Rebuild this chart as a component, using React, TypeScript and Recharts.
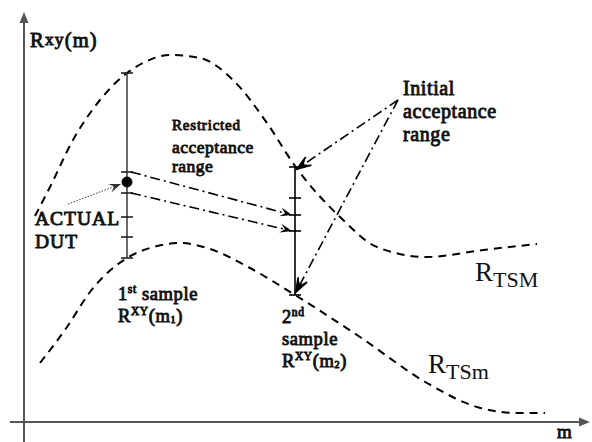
import React from 'react';
import { LineChart, Line, XAxis, YAxis, ReferenceLine, ReferenceDot } from 'recharts';

// RTSM (upper limit) curve: m vs R
const upperCurve = [
  { m: 35, r: 226 }, { m: 50, r: 255 }, { m: 73, r: 302 }, { m: 100, r: 342 },
  { m: 127, r: 369 }, { m: 145, r: 380 }, { m: 170, r: 387 }, { m: 200, r: 384 },
  { m: 233, r: 362 }, { m: 267, r: 319 }, { m: 295, r: 276 }, { m: 340, r: 225 },
  { m: 377, r: 195 }, { m: 427, r: 185 }, { m: 483, r: 192 }, { m: 537, r: 198 },
];
// RTSm (lower limit) curve
const lowerCurve = [
  { m: 40, r: 79 }, { m: 67, r: 115 }, { m: 90, r: 150 }, { m: 127, r: 184 },
  { m: 150, r: 194 }, { m: 180, r: 199 }, { m: 210, r: 193 }, { m: 250, r: 174 },
  { m: 295, r: 147 }, { m: 360, r: 105 }, { m: 427, r: 59 }, { m: 477, r: 35 },
  { m: 517, r: 29 }, { m: 545, r: 29 },
];
// sample positions and range ticks
const sampleM = [127, 295];
const sample1Ticks = [369, 270, 249, 225, 205, 184];
const sample2Ticks = [275, 244, 227, 211, 147];
const actualDut = { m: 127, r: 260 };
// restricted-range arrows: [from r at sample1, to r at sample2]
const restrictedArrows = [
  [270, 227],
  [249, 211],
];
// initial-range arrows: origin and targets
const initialOrigin = { m: 398, r: 342 };
const initialTargets = [
  { m: 297, r: 273 },
  { m: 296, r: 150 },
];
const pointerFrom = { m: 68, r: 238 };
const pointerTo = { m: 121, r: 258 };

const FONT = '"Liberation Serif", "DejaVu Serif", serif';

type Part = { t: string; s?: 'sup' | 'sub' | 'raise' };
type LabelDef = { m: number; r: number; size: number; ls: number; lines: Part[][]; lh: number };

const labels: LabelDef[] = [
  { m: 30, r: 395, size: 20.5, ls: 1.2, lh: 0, lines: [[{ t: 'R' }, { t: 'xy', s: 'raise' }, { t: '(m)' }]] },
  { m: 172, r: 312, size: 15, ls: 0.8, lh: 22, lines: [[{ t: 'Restricted' }]] },
  { m: 172, r: 289, size: 17.5, ls: 0.5, lh: 19, lines: [[{ t: 'acceptance' }], [{ t: 'range' }]] },
  { m: 403, r: 347, size: 20, ls: 0.6, lh: 23, lines: [[{ t: 'Initial' }], [{ t: 'acceptance' }], [{ t: 'range' }]] },
  { m: 35, r: 217, size: 19.5, ls: 1.0, lh: 23, lines: [[{ t: 'ACTUAL' }], [{ t: 'DUT' }]] },
  { m: 118, r: 142, size: 18.5, ls: 0.6, lh: 22, lines: [
    [{ t: '1' }, { t: 'st', s: 'sup' }, { t: ' sample' }],
    [{ t: 'R' }, { t: 'XY', s: 'sup' }, { t: '(m' }, { t: '1', s: 'sub' }, { t: ')' }],
  ] },
  { m: 282, r: 119, size: 18.5, ls: 0.6, lh: 22, lines: [
    [{ t: '2' }, { t: 'nd', s: 'sup' }],
    [{ t: 'sample' }],
    [{ t: 'R' }, { t: 'XY', s: 'sup' }, { t: '(m' }, { t: '2', s: 'sub' }, { t: ')' }],
  ] },
  { m: 557, r: 4, size: 19, ls: 0, lh: 0, lines: [[{ t: 'm' }]] },
];

const curveLabels = [
  { m: 475, r: 161, main: 'R', sub: 'TSM' },
  { m: 428, r: 69, main: 'R', sub: 'TSm' },
];

function head(x1: number, y1: number, x2: number, y2: number, L: number, W: number, notch: number) {
  const dx = x2 - x1, dy = y2 - y1;
  const len = Math.hypot(dx, dy) || 1;
  const ux = dx / len, uy = dy / len;
  const px = -uy, py = ux;
  const bx = x2 - ux * L, by = y2 - uy * L;
  const ix = x2 - ux * L * notch, iy = y2 - uy * L * notch;
  return {
    pts: `${x2},${y2} ${bx + px * W / 2},${by + py * W / 2} ${ix},${iy} ${bx - px * W / 2},${by - py * W / 2}`,
    ix, iy, lx: bx + px * W / 2, ly: by + py * W / 2, rx: bx - px * W / 2, ry: by - py * W / 2,
  };
}

const makeShape = (opts: { stroke: string; width: number; dash?: string; arrow?: 'stealth' | 'open' | 'filled' }) =>
  (p: any) => {
    const { x1, y1, x2, y2 } = p;
    if (!opts.arrow) {
      return <line x1={x1} y1={y1} x2={x2} y2={y2} stroke={opts.stroke} strokeWidth={opts.width} strokeDasharray={opts.dash} />;
    }
    if (opts.arrow === 'open') {
      const h = head(x1, y1, x2, y2, 14, 10, 0.6);
      return (
        <g>
          <line x1={x1} y1={y1} x2={x2} y2={y2} stroke={opts.stroke} strokeWidth={opts.width} strokeDasharray={opts.dash} />
          <polyline points={`${h.lx},${h.ly} ${x2},${y2} ${h.rx},${h.ry}`} fill="none" stroke={opts.stroke} strokeWidth={1.8} />
          <polygon points={h.pts} fill={opts.stroke} />
        </g>
      );
    }
    const h = opts.arrow === 'filled' ? head(x1, y1, x2, y2, 11, 9, 1) : head(x1, y1, x2, y2, 12, 9, 0.6);
    return (
      <g>
        <line x1={x1} y1={y1} x2={h.ix} y2={h.iy} stroke={opts.stroke} strokeWidth={opts.width} strokeDasharray={opts.dash} />
        <polygon points={h.pts} fill={opts.stroke} />
      </g>
    );
  };

function renderParts(parts: Part[], size: number) {
  let cur = 0;
  return parts.map((p, i) => {
    let target = 0, fs = size;
    if (p.s === 'sup') { target = -size * 0.38; fs = size * 0.62; }
    else if (p.s === 'sub') { target = size * 0.05; fs = size * 0.55; }
    else if (p.s === 'raise') { target = -size * 0.12; fs = size * 0.85; }
    const dy = target - cur;
    cur = target;
    return <tspan key={i} dy={dy} fontSize={fs}>{p.t}</tspan>;
  });
}

// bold look: regular serif face thickened with a thin outline
const textShape = (def: LabelDef) => (p: any) => (
  <g>
    {def.lines.map((ln, i) => (
      <text key={i} x={p.cx} y={p.cy + i * def.lh} fontFamily={FONT} fontWeight={400}
        fontSize={def.size} letterSpacing={def.ls} fill="#111" stroke="#111" strokeWidth={0.9}>
        {renderParts(ln, def.size)}
      </text>
    ))}
  </g>
);

const curveLabelShape = (main: string, sub: string) => (p: any) => (
  <text x={p.cx} y={p.cy} fontFamily={FONT} fill="#111">
    <tspan fontSize={27}>{main}</tspan>
    <tspan fontSize={22} dy={6}>{sub}</tspan>
  </text>
);

export default function App() {
  const seg = (a: { m: number; r: number }, b: { m: number; r: number }) => [{ x: a.m, y: a.r }, { x: b.m, y: b.r }];
  const tickW = 6;
  return (
    <div style={{ position: 'absolute', left: 0, top: 0, width: 592, height: 442, background: '#fff' }}>
      <LineChart width={592} height={442} margin={{ top: 0, right: 0, bottom: 0, left: 0 }}>
        <XAxis type="number" dataKey="m" domain={[0, 592]} allowDataOverflow hide />
        <YAxis type="number" dataKey="r" domain={[0, 442]} allowDataOverflow hide />

        {/* axes */}
        <ReferenceLine segment={seg({ m: 10, r: 20 }, { m: 590, r: 20 })} ifOverflow="visible"
          shape={makeShape({ stroke: '#555', width: 2, arrow: 'filled' })} />
        <ReferenceLine segment={seg({ m: 24, r: 0 }, { m: 24, r: 430 })} ifOverflow="visible"
          shape={makeShape({ stroke: '#555', width: 2, arrow: 'filled' })} />

        <Line data={upperCurve} dataKey="r" type="monotone" stroke="#000" strokeWidth={2}
          strokeDasharray="8 6" dot={false} activeDot={false} legendType="none" isAnimationActive={false} />
        <Line data={lowerCurve} dataKey="r" type="monotone" stroke="#000" strokeWidth={2}
          strokeDasharray="8 6" dot={false} activeDot={false} legendType="none" isAnimationActive={false} />

        {/* sample 1 range */}
        <ReferenceLine segment={seg({ m: sampleM[0], r: sample1Ticks[0] }, { m: sampleM[0], r: sample1Ticks[sample1Ticks.length - 1] })}
          shape={makeShape({ stroke: '#444', width: 1.6 })} />
        {sample1Ticks.map((t, i) => (
          <ReferenceLine key={'t1' + i} segment={seg({ m: sampleM[0] - tickW, r: t }, { m: sampleM[0] + tickW, r: t })}
            shape={makeShape({ stroke: '#222', width: 1.6 })} />
        ))}
        {/* sample 2 range */}
        <ReferenceLine segment={seg({ m: sampleM[1], r: sample2Ticks[0] }, { m: sampleM[1], r: sample2Ticks[sample2Ticks.length - 1] })}
          shape={makeShape({ stroke: '#000', width: 1.6 })} />
        {sample2Ticks.map((t, i) => (
          <ReferenceLine key={'t2' + i} segment={seg({ m: sampleM[1] - tickW, r: t }, { m: sampleM[1] + tickW, r: t })}
            shape={makeShape({ stroke: '#000', width: 1.6 })} />
        ))}

        {/* restricted range arrows */}
        {restrictedArrows.map(([a, b], i) => (
          <ReferenceLine key={'ra' + i} segment={seg({ m: sampleM[0] + 4, r: a }, { m: sampleM[1] - 3, r: b })}
            shape={makeShape({ stroke: '#000', width: 1.6, dash: '10 4 2 4', arrow: 'stealth' })} />
        ))}
        {/* initial range arrows */}
        {initialTargets.map((t, i) => (
          <ReferenceLine key={'ia' + i} segment={seg(initialOrigin, t)}
            shape={makeShape({ stroke: '#000', width: 1.6, dash: '10 4 2 4', arrow: 'open' })} />
        ))}
        {/* pointer to actual DUT */}
        <ReferenceLine segment={seg(pointerFrom, pointerTo)}
          shape={makeShape({ stroke: '#333', width: 1, dash: '1.5 1.5', arrow: 'stealth' })} />

        <ReferenceDot x={actualDut.m} y={actualDut.r} r={5} fill="#000" stroke="#000" />

        {labels.map((l, i) => (
          <ReferenceDot key={'lb' + i} x={l.m} y={l.r} r={0} ifOverflow="visible" shape={textShape(l)} />
        ))}
        {curveLabels.map((c, i) => (
          <ReferenceDot key={'cl' + i} x={c.m} y={c.r} r={0} ifOverflow="visible" shape={curveLabelShape(c.main, c.sub)} />
        ))}
      </LineChart>
    </div>
  );
}
